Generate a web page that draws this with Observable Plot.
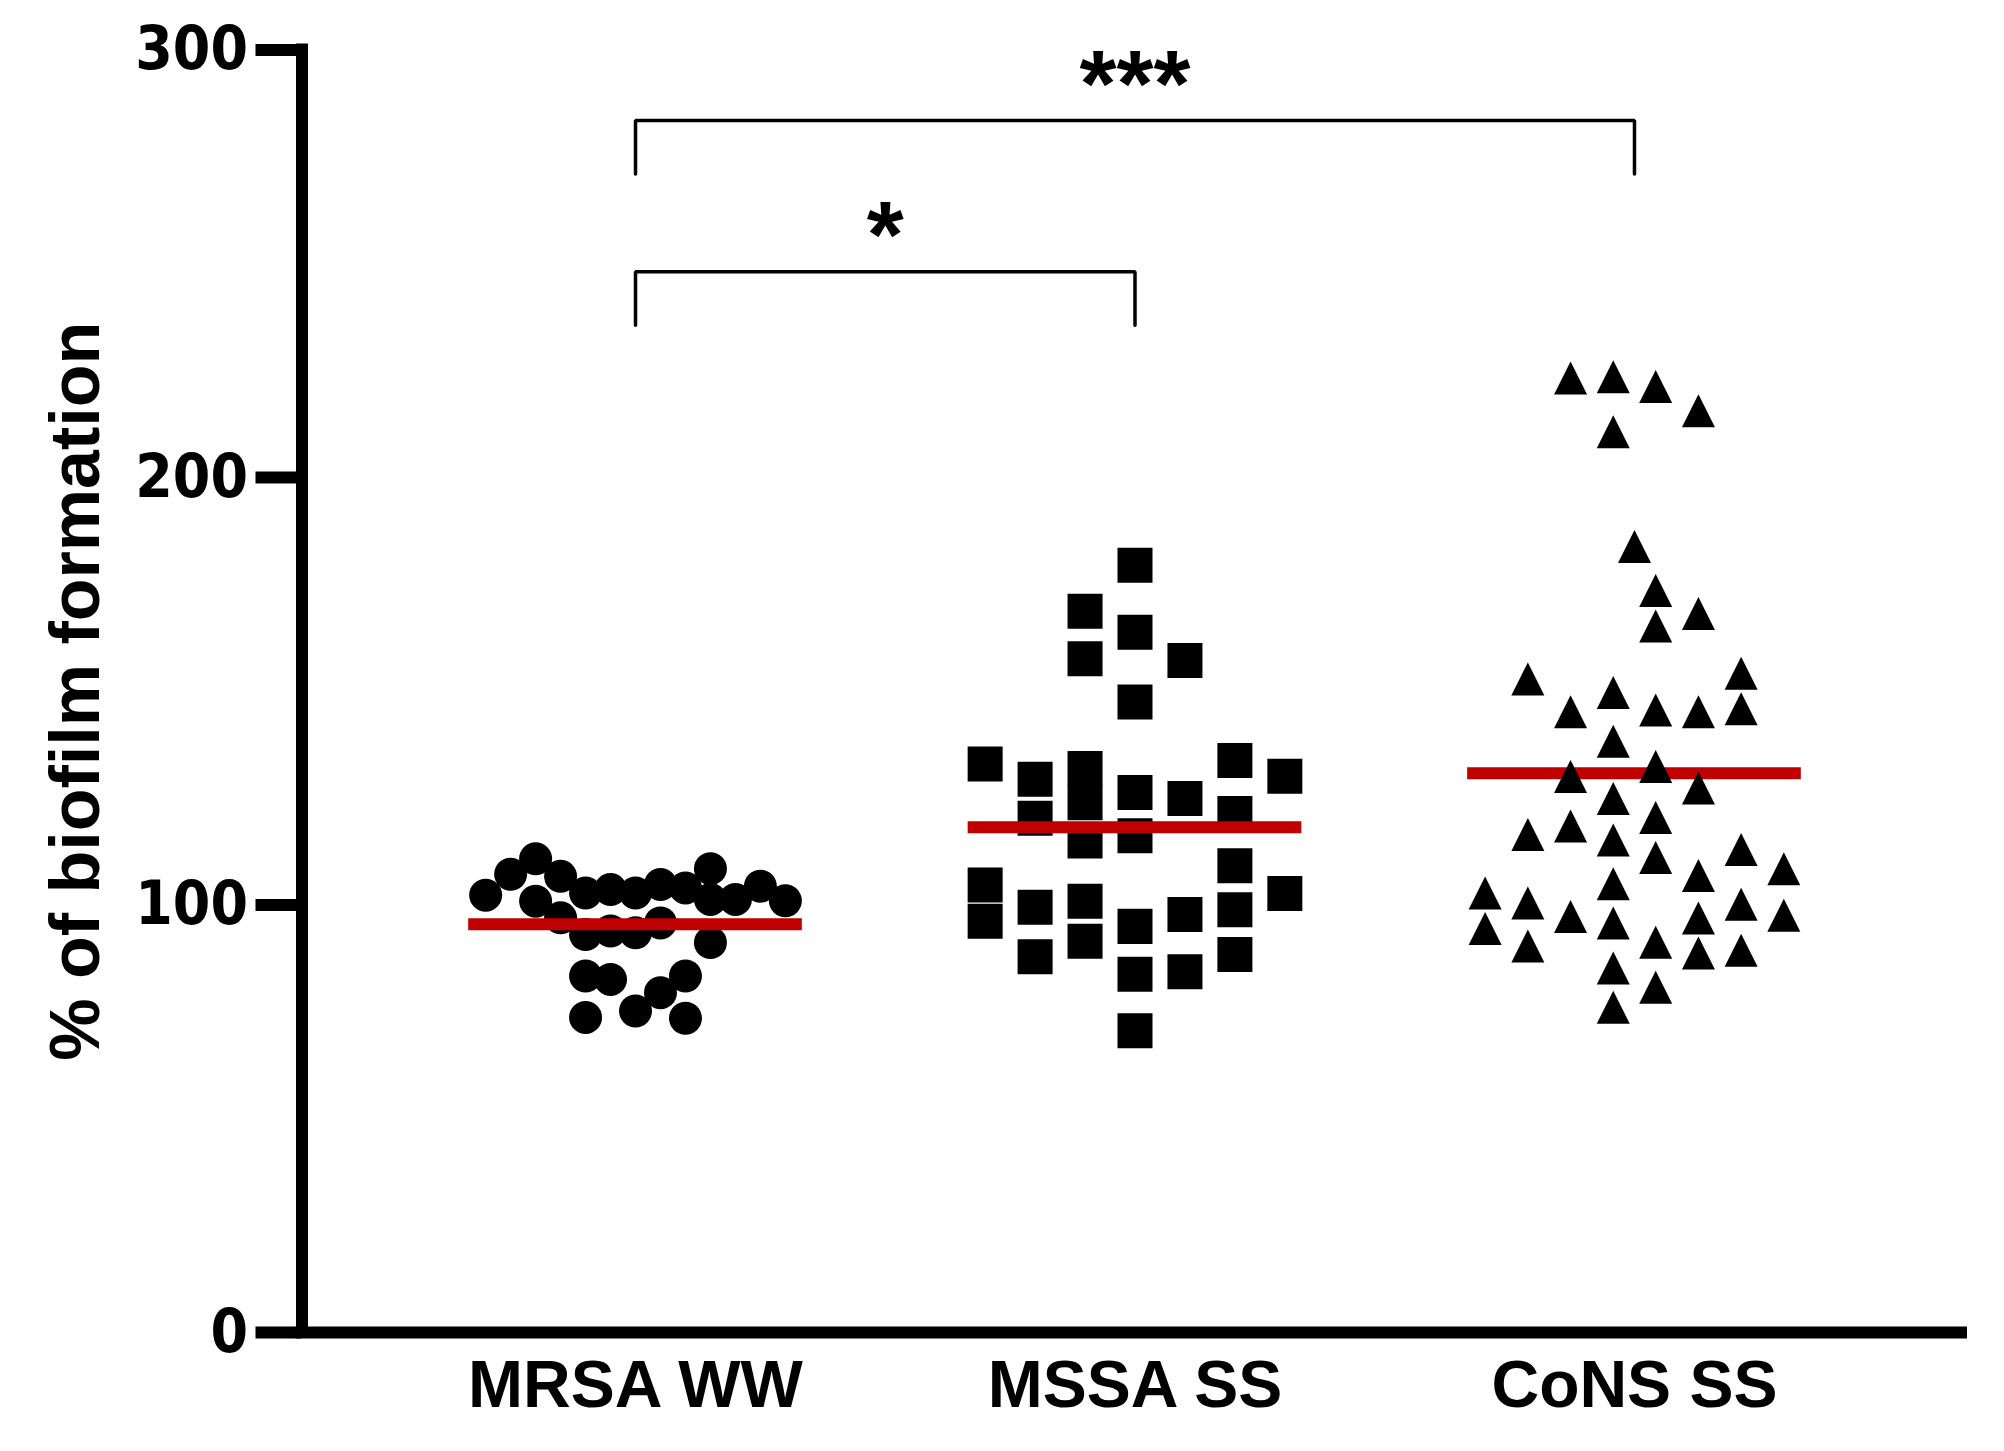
<!DOCTYPE html>
<html>
<head>
<meta charset="utf-8">
<script src="https://cdn.jsdelivr.net/npm/d3@7"></script>
<script src="https://cdn.jsdelivr.net/npm/@observablehq/plot@0.6"></script>
<style>
  html, body { margin: 0; padding: 0; background: #ffffff; }
  svg { display: block; }
  g[aria-label="y-axis tick label"] { font-stretch: condensed; }
</style>
</head>
<body>
<script>
// ---- data ----
const groups = ["MRSA WW", "MSSA SS", "CoNS SS"];
const yTicks = [0, 100, 200, 300];

// % of biofilm formation per isolate, with the horizontal scatter slot
const mrsaValues  = [102.3, 107.2, 110.8, 106.7, 100.9, 97.0, 102.8, 93.1, 103.6, 93.9, 102.8, 93.5, 104.8, 95.8,
                     104.0, 108.5, 101.3, 91.2, 101.3, 104.4, 101.0, 83.4, 82.6, 79.5, 83.4, 75.2, 73.7, 73.5];
const mrsaOffsets = [-6, -5, -4, -3, -4, -3, -2, -2, -1, -1, 0, 0, 1, 1,
                     2, 3, 3, 3, 4, 5, 6, -2, -1, 1, 2, 0, -2, 2];

const mssaValues  = [179.5, 163.8, 147.5, 126.3, 116.2, 95.0, 83.8, 70.6,
                     168.7, 157.6, 131.9, 123.9, 115.0, 100.9, 91.5,
                     157.2, 124.9, 97.8, 84.4,
                     129.4, 120.3, 99.5, 87.9,
                     133.8, 121.4, 109.2, 98.9, 88.4,
                     133.0, 104.7, 96.2,
                     130.1, 102.7];
const mssaOffsets = [0, 0, 0, 0, 0, 0, 0, 0,
                     -2, -2, -2, -2, -2, -2, -2,
                     2, 2, 2, 2,
                     -4, -4, -4, -4,
                     4, 4, 4, 4, 4,
                     -6, -6, -6,
                     6, 6];

const consValues  = [222.0, 222.3, 220.0, 214.3, 209.4, 182.6, 172.3, 164.0, 166.9, 151.6, 152.9,
                     148.4, 143.9, 144.3, 143.9, 144.6, 137.0, 131.1, 128.8, 123.6, 126.1, 119.2,
                     117.2, 115.2, 113.9, 109.8, 111.7, 107.2, 105.6, 103.7, 101.5, 99.2, 98.9,
                     96.3, 96.0, 94.5, 95.7, 93.2, 89.1, 90.0, 87.5, 88.1, 84.0, 79.5, 74.8];
const consOffsets = [-2.56, -0.85, 0.85, 2.56, -0.85, 0, 0.85, 0.85, 2.56, -4.27, 4.27,
                     -0.85, -2.56, 0.85, 2.56, 4.27, -0.85, 0.85, -2.56, -0.85, 2.56, 0.85,
                     -2.56, -4.27, -0.85, 0.85, 4.27, 5.98, 2.56, -0.85, -5.98, -4.27, 4.27,
                     5.98, -2.56, -0.85, 2.56, -5.98, -4.27, 0.85, 2.56, 4.27, -0.85, 0.85, -0.85];

const medians = [95.5, 118.2, 130.8];

// significance brackets
const bracketFrom   = [0, 0];
const bracketTo     = [1, 2];
const bracketTop    = [248.1, 283.5];
const bracketLabels = ["*", "***"];

// ---- build tables ----
const points = [
  ...mrsaValues.map((v, i) => ({group: 0, value: v, offset: mrsaOffsets[i]})),
  ...mssaValues.map((v, i) => ({group: 1, value: v, offset: mssaOffsets[i]})),
  ...consValues.map((v, i) => ({group: 2, value: v, offset: consOffsets[i]}))
];
const medianData = medians.map((m, i) => ({group: i, value: m}));
const legLength = 12.5;
const bracketPts = [];
bracketFrom.forEach((f, i) => {
  const t = bracketTo[i], y = bracketTop[i];
  bracketPts.push({id: i, x: f, y: y - legLength}, {id: i, x: f, y: y},
                  {id: i, x: t, y: y}, {id: i, x: t, y: y - legLength});
});
const bracketText = bracketLabels.map((l, i) => ({label: l, x: (bracketFrom[i] + bracketTo[i]) / 2, y: bracketTop[i]}));

// ---- styling / layout ----
const slotsPerGroup = 20;
const px = d => d.group + d.offset / slotsPerGroup;
const xDomain = [-0.6677, 2.6547];
const medianHalf = 0.334;
const red = "#c00000";
const axisWidth = 12;
const triangle = {
  draw(context, size) {
    const r = Math.sqrt(size / Math.PI);
    const w = 2 * r, h = 2 * r;
    context.moveTo(0, -2 * h / 3);
    context.lineTo(w / 2, h / 3);
    context.lineTo(-w / 2, h / 3);
    context.closePath();
  }
};

const chart = Plot.plot({
  width: 2004,
  height: 1451,
  marginLeft: 301.5,
  marginRight: 43,
  marginTop: 49.5,
  marginBottom: 119,
  style: {fontFamily: "'Liberation Sans', Arial, Helvetica, sans-serif", fontWeight: "bold", color: "#000", background: "#fff"},
  x: {domain: xDomain, axis: null},
  y: {domain: [0, 300], axis: null},
  marks: [
    Plot.ruleY(medianData.filter(d => d.group === 2), {y: "value", x1: d => d.group - medianHalf, x2: d => d.group + medianHalf, stroke: red, strokeWidth: 12}),
    Plot.dot(points.filter(d => d.group === 0), {x: px, y: "value", r: 16.5, fill: "#000", symbol: "circle"}),
    Plot.dot(points.filter(d => d.group === 1), {x: px, y: "value", r: 19.75, fill: "#000", symbol: "square"}),
    Plot.dot(points.filter(d => d.group === 2), {x: px, y: "value", r: 16.5, fill: "#000", symbol: triangle}),
    Plot.ruleY(medianData.filter(d => d.group !== 2), {y: "value", x1: d => d.group - medianHalf, x2: d => d.group + medianHalf, stroke: red, strokeWidth: 12}),
    Plot.line(bracketPts, {x: "x", y: "y", z: "id", stroke: "#000", strokeWidth: 3.5, strokeLinejoin: "miter"}),
    Plot.text(bracketText, {x: "x", y: "y", text: "label", lineAnchor: "bottom", dy: -5, fontSize: 95, fontWeight: "bold"}),
    Plot.ruleY([0], {stroke: "#000", strokeWidth: axisWidth, strokeLinecap: "square"}),
    Plot.ruleX([xDomain[0]], {y1: 0, y2: 300, stroke: "#000", strokeWidth: axisWidth, strokeLinecap: "square"}),
    Plot.axisY({ticks: yTicks, tickSize: 46, tickPadding: 8, strokeWidth: axisWidth, fontSize: 60, fontWeight: "bold",
                fontFamily: "'DejaVu Sans Condensed', 'DejaVu Sans', Verdana, sans-serif", tickFormat: d => String(d), label: null}),
    Plot.axisX({ticks: [0, 1, 2], tickSize: 0, tickPadding: 28, fontSize: 66, fontWeight: "bold", tickFormat: i => groups[i], label: null}),
    Plot.text(["% of biofilm formation"], {frameAnchor: "left", textAnchor: "middle", rotate: -90, dx: -225, fontSize: 70, fontWeight: "bold"})
  ]
});
document.body.appendChild(chart);
</script>
</body>
</html>
